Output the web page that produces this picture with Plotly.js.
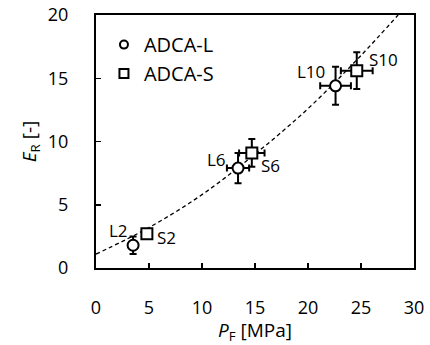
<!DOCTYPE html>
<html>
<head>
<meta charset="utf-8">
<script src="https://cdn.plot.ly/plotly-3.0.1.min.js"></script>
<style>html,body{margin:0;padding:0;background:#fff;}#chart{width:430px;height:345px;}</style>
</head>
<body>
<div id="chart"></div>
<script>
// ADCA-L series
const lNames = ["L2", "L6", "L10"];
const lPF = [3.5, 13.4, 22.6];
const lPFerr = [0.3, 1.05, 1.45];
const lER = [1.8, 7.9, 14.4];
const lERerr = [0.7, 1.2, 1.5];

// ADCA-S series
const sNames = ["S2", "S6", "S10"];
const sPF = [4.8, 14.7, 24.6];
const sPFerr = [0.0, 1.2, 1.5];
const sER = [2.7, 9.1, 15.6];
const sERerr = [0.0, 1.1, 1.45];

// dashed trend curve
const trendPF = [0, 5, 10, 15, 20, 25, 28.5];
const trendER = [1.1, 3.2, 5.8, 9.0, 12.6, 16.8, 20.0];

const xTicks = [0, 5, 10, 15, 20, 25, 30];
const yTicks = [0, 5, 10, 15, 20];

const FONT = "Open Sans, Noto Sans, sans-serif";

const errStyle = {type: "data", visible: true, color: "#000", thickness: 2, width: 3.5};

const traces = [
  {
    x: trendPF, y: trendER, mode: "lines", line: {shape: "spline", color: "#000", width: 1.3, dash: "4px,3px"},
    showlegend: false, hoverinfo: "skip"
  },
  {
    name: "ADCA-L", x: lPF, y: lER, mode: "markers", showlegend: false,
    marker: {symbol: "circle", size: 11, color: "#fff", line: {color: "#000", width: 2}},
    error_x: Object.assign({array: lPFerr}, errStyle),
    error_y: Object.assign({array: lERerr}, errStyle)
  },
  {
    name: "ADCA-S", x: sPF, y: sER, mode: "markers", showlegend: false,
    marker: {symbol: "square", size: 11, color: "#fff", line: {color: "#000", width: 2}},
    error_x: Object.assign({array: sPFerr}, errStyle),
    error_y: Object.assign({array: sERerr}, errStyle)
  },
  // legend entries (smaller markers, as in the reference legend)
  {
    name: "ADCA-L", x: [null], y: [null], mode: "markers", showlegend: true,
    marker: {symbol: "circle", size: 8, color: "#fff", line: {color: "#000", width: 2}}
  },
  {
    name: "ADCA-S", x: [null], y: [null], mode: "markers", showlegend: true,
    marker: {symbol: "square", size: 9, color: "#fff", line: {color: "#000", width: 2}}
  }
];

// label offsets in pixels relative to each point
const lOff = [[-15, 15], [-22, 9], [-25, 14]];
const sOff = [[20, -4], [19, -13], [27, 11]];
const annotations = [];
lNames.forEach((t, i) => annotations.push({x: lPF[i], y: lER[i], xref: "x", yref: "y", text: t, showarrow: false, xshift: lOff[i][0], yshift: lOff[i][1], font: {family: FONT, size: 17, color: "#000"}}));
sNames.forEach((t, i) => annotations.push({x: sPF[i], y: sER[i], xref: "x", yref: "y", text: t, showarrow: false, xshift: sOff[i][0], yshift: sOff[i][1], font: {family: FONT, size: 17, color: "#000"}}));

const axisCommon = {
  showgrid: false, zeroline: false, showline: true, mirror: true, linecolor: "#000", linewidth: 2,
  ticks: "inside", ticklen: 5, tickwidth: 1.5, tickcolor: "#000",
  tickfont: {family: FONT, size: 18, color: "#000"}
};

const layout = {
  width: 430, height: 345,
  margin: {l: 96, r: 16, t: 15, b: 77},
  paper_bgcolor: "#fff", plot_bgcolor: "#fff",
  font: {family: FONT, color: "#000"},
  xaxis: Object.assign({}, axisCommon, {
    range: [0, 30], tickvals: xTicks, ticktext: xTicks.map(String), ticklabelstandoff: 22,
    title: {text: "<i>P</i><sub>F</sub> [MPa]", font: {family: FONT, size: 19, color: "#000"}, standoff: 2}
  }),
  yaxis: Object.assign({}, axisCommon, {
    range: [0, 20], tickvals: yTicks, ticktext: yTicks.map(String), ticklabelstandoff: 22,
    title: {text: "<i>E</i><sub>R</sub> [-]", font: {family: FONT, size: 19, color: "#000"}, standoff: 6}
  }),
  showlegend: true,
  legend: {x: 0.025, y: 0.96, xanchor: "left", yanchor: "top", bgcolor: "rgba(0,0,0,0)",
    font: {family: FONT, size: 20, color: "#000"}, itemwidth: 30, tracegroupgap: 2},
  annotations: annotations
};

Plotly.newPlot("chart", traces, layout, {displayModeBar: false, staticPlot: true});
</script>
</body>
</html>
